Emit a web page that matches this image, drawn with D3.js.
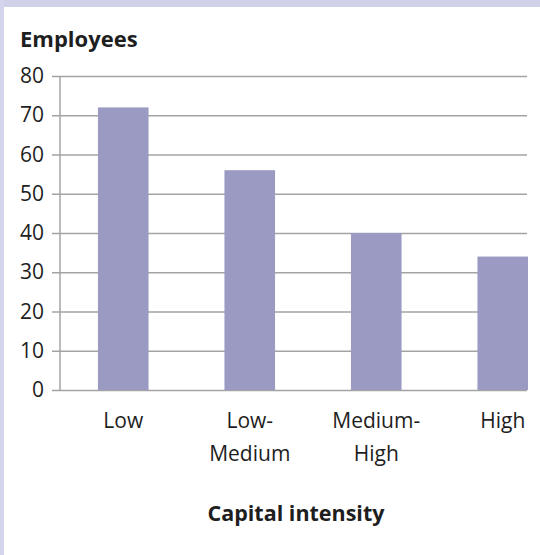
<!DOCTYPE html>
<html>
<head>
<meta charset="utf-8">
<script src="https://cdn.jsdelivr.net/npm/d3@7"></script>
<style>
  body { margin: 0; background: #fff; }
  svg text { font-family: "Open Sans", "DejaVu Sans", sans-serif; fill: #1e1e1e; }
</style>
</head>
<body>
<svg id="chart" width="540" height="555"></svg>
<script>
const categories = ["Low", "Low-Medium", "Medium-High", "High"];
const categoryLines = [["Low"], ["Low-", "Medium"], ["Medium-", "High"], ["High"]];
const employees = [72, 56, 40, 34];
const yTicks = [0, 10, 20, 30, 40, 50, 60, 70, 80];
const yTitle = "Employees";
const xTitle = "Capital intensity";

const svg = d3.select("#chart");
const W = 540, H = 555;

svg.append("rect").attr("x", 0).attr("y", 0).attr("width", W).attr("height", H).attr("fill", "#fff");
svg.append("rect").attr("x", 0).attr("y", 0).attr("width", W).attr("height", 7).attr("fill", "#d0d0e8");
svg.append("rect").attr("x", 0).attr("y", 0).attr("width", 4).attr("height", H).attr("fill", "#d4d4ec");

const plotLeft = 60, plotTop = 76, plotBottom = 390, clipRight = 528;

const y = d3.scaleLinear().domain([0, 80]).range([plotBottom, plotTop]);
const x = d3.scaleBand().domain(categories).range([plotLeft, 566]).paddingInner(0.6).paddingOuter(0.3);

svg.append("defs").append("clipPath").attr("id", "clip")
  .append("rect").attr("x", 0).attr("y", 0).attr("width", clipRight).attr("height", H);

const yAxis = d3.axisLeft(y).tickValues(yTicks).tickSize(-(527 - 52)).tickPadding(8).tickFormat(d3.format("d"));
const gy = svg.append("g").attr("transform", `translate(52,0)`).call(yAxis);
gy.select(".domain").remove();
gy.selectAll(".tick line").attr("stroke", "#a3a3a3").attr("stroke-width", 1.5);
gy.selectAll(".tick text").attr("font-size", 21).attr("fill", "#1e1e1e")
  .style("font-family", '"Open Sans", sans-serif');

svg.append("g").attr("clip-path", "url(#clip)")
  .selectAll("rect").data(categories).join("rect")
  .attr("x", d => x(d))
  .attr("width", x.bandwidth())
  .attr("y", (d, i) => y(employees[i]))
  .attr("height", (d, i) => y(0) - y(employees[i]))
  .attr("fill", "#9a9ac2");

svg.append("line").attr("x1", plotLeft).attr("x2", plotLeft)
  .attr("y1", plotTop).attr("y2", plotBottom + 1)
  .attr("stroke", "#a3a3a3").attr("stroke-width", 1.5);

const xl = svg.append("g");
categories.forEach((c, i) => {
  const cx = x(c) + x.bandwidth() / 2;
  const t = xl.append("text").attr("text-anchor", "middle").attr("font-size", 21);
  categoryLines[i].forEach((line, j) => {
    t.append("tspan").attr("x", cx).attr("y", 428 + j * 33).text(line);
  });
});

svg.append("text").attr("x", 20).attr("y", 47)
  .attr("font-size", 22).attr("font-weight", "bold").text(yTitle);
svg.append("text").attr("x", 296).attr("y", 521).attr("text-anchor", "middle")
  .attr("font-size", 21.5).attr("font-weight", "bold").text(xTitle);
</script>
</body>
</html>
